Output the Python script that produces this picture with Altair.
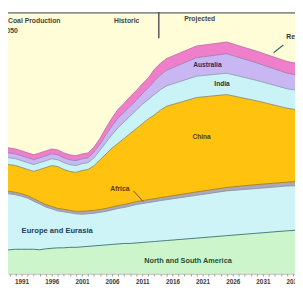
import altair as alt
import pandas as pd

# ---- data (Mtoe-like units) ----
years = [1987, 1988, 1989, 1990, 1991, 1992, 1993, 1994, 1995, 1996, 1997, 1998, 1999, 2000,
         2001, 2002, 2003, 2004, 2005, 2006, 2007, 2008, 2009, 2010, 2011, 2012, 2013, 2014, 2015,
         2020, 2025, 2030, 2035, 2040]
north_south_america = [402, 410, 419, 428, 428, 428, 428, 419, 436, 445, 453, 453, 462, 462,
                       470, 479, 487, 496, 504, 513, 522, 530, 530, 539, 547, 556, 564, 573, 581,
                       624, 667, 710, 752, 787]
europe_eurasia = [1009, 1000, 983, 958, 932, 898, 846, 804, 735, 693, 650, 633, 607, 590,
                  573, 573, 573, 581, 590, 607, 624, 633, 658, 675, 684, 693, 701, 710, 718,
                  752, 787, 787, 787, 778]
africa = [43, 43, 43, 43, 43, 43, 43, 43, 43, 43, 43, 43, 43, 43,
          51, 51, 51, 51, 51, 51, 51, 51, 51, 51, 51, 51, 51, 51, 51,
          60, 60, 68, 68, 77]
china = [479, 479, 470, 470, 462, 462, 479, 564, 650, 718, 735, 701, 684, 684,
         718, 727, 787, 872, 958, 1035, 1094, 1163, 1223, 1283, 1351, 1419, 1471, 1539, 1590,
         1659, 1633, 1471, 1300, 1180]
india = [120, 120, 120, 120, 120, 120, 120, 120, 120, 120, 120, 120, 120, 120,
         120, 120, 137, 171, 205, 239, 274, 291, 308, 325, 342, 342, 359, 359, 359,
         376, 376, 359, 342, 342]
australia = [86, 86, 86, 86, 86, 86, 86, 86, 86, 86, 86, 86, 86, 86,
             86, 86, 103, 103, 137, 154, 171, 171, 171, 171, 188, 205, 239, 257, 274,
             325, 342, 308, 274, 257]
rest_of_world = [86, 86, 86, 86, 86, 86, 86, 86, 86, 86, 86, 86, 86, 86,
                 86, 86, 86, 103, 120, 137, 154, 154, 171, 171, 171, 171, 205, 205, 205,
                 205, 205, 205, 205, 205]

series_names = ["North and South America", "Europe and Eurasia", "Africa", "China",
                "India", "Australia", "Rest of World"]
series_values = [north_south_america, europe_eurasia, africa, china, india, australia, rest_of_world]
tick_years = list(range(1988, 2037))

fills = ["#CCF5CC", "#CFF4F7", "#A9A9BC", "#FFC30F", "#C9F3F7", "#C8B7F2", "#F07FCB"]
strokes = ["#2F7070", "#9090A0", "#A07A20", "#8C8A60", "#8AA0B0", "#9C80B0", "#C070A8"]

rows = []
for order, (name, vals) in enumerate(zip(series_names, series_values)):
    for y, v in zip(years, vals):
        rows.append({"year": y, "series": name, "order": order, "value": v})
df = pd.DataFrame(rows)

W, H = 295, 269
x_scale = alt.Scale(domain=[1988.742, 2036.323], nice=False, zero=False)
y_scale = alt.Scale(domain=[0, 4600], nice=False, zero=False)
x_axis = alt.Axis(values=tick_years, format="d",
                  labelExpr="(datum.value - 1991) % 5 == 0 ? datum.label : ''",
                  labelFontSize=6.5, labelFont="Liberation Sans", labelFontWeight="bold",
                  labelColor="#3a3a3a", tickColor="#9a9a9a", tickSize=2.5,
                  domainColor="#a8a8a8", labelPadding=3, grid=False,
                  labelOverlap=False, labelFlush=False, title=None)
x_enc = alt.X("year:Q", scale=x_scale, axis=x_axis)

base = alt.Chart(df).transform_stack(
    stack="value", groupby=["year"], as_=["y0", "y1"],
    sort=[alt.SortField("order", order="ascending")]
)

areas = base.mark_area(clip=True).encode(
    x=x_enc,
    y=alt.Y("y1:Q", scale=y_scale, axis=None),
    y2="y0:Q",
    color=alt.Color("series:N", scale=alt.Scale(domain=series_names, range=fills), legend=None),
    order=alt.Order("order:Q"),
)
lines = base.mark_line(clip=True, strokeWidth=0.9).encode(
    x=x_enc,
    y=alt.Y("y1:Q", scale=y_scale, axis=None),
    color=alt.Color("series:N", scale=alt.Scale(domain=series_names, range=strokes), legend=None),
)

one = pd.DataFrame({"k": [0]})


def label(text, x, y, color, align="center", size=6.5, weight="bold"):
    return alt.Chart(one).mark_text(
        text=text, align=align, baseline="middle", fontSize=size,
        font="Liberation Sans", fontWeight=weight, color=color
    ).encode(x=alt.value(x), y=alt.value(y))


def seg(x1, y1, x2, y2, color, width=1.0):
    return alt.Chart(one).mark_rule(color=color, strokeWidth=width).encode(
        x=alt.value(x1), y=alt.value(y1), x2=alt.value(x2), y2=alt.value(y2))


frame = seg(0, 1, W, 1, "#8f8f8f", 2)
divider = seg(155, 0, 155, 27, "#555555", 1.5)
africa_leader = seg(129, 184, 139, 195, "#6a5020", 1)
rest_leader = seg(273, 42, 283, 34, "#3a6a60", 1.2)

texts = [
    label("World Coal Production", 54, 9, "#444444", align="right", size=7),
    label("1990-2050", 10, 20, "#444444", align="right", size=7),
    label("Historic", 122, 9, "#444444", size=7),
    label("Projected", 197, 7, "#444444", size=7),
    label("Rest of World", 286, 26, "#333333", align="left", size=7),
    label("Australia", 205, 55, "#2a2a60", size=6.8),
    label("India", 220, 74, "#203040", size=6.8),
    label("China", 199, 129, "#5a3a00", size=6.8),
    label("Africa", 115, 182, "#5a3a00", size=7),
    label("Europe and Eurasia", 14, 225, "#204060", align="left", size=7.8),
    label("North and South America", 185, 256, "#1f5030", size=7.5),
]

chart = alt.layer(areas, lines, frame, divider, africa_leader, rest_leader, *texts).resolve_scale(
    color="independent"
).properties(
    width=W, height=H,
    autosize=alt.AutoSizeParams(type="none"),
    padding={"left": 0, "top": 0, "right": 0, "bottom": 19},
    background="#ffffff",
).configure_view(fill="#FFFCD8", stroke=None)

chart.save("out.html", embed_options={"renderer": "svg", "actions": False})
